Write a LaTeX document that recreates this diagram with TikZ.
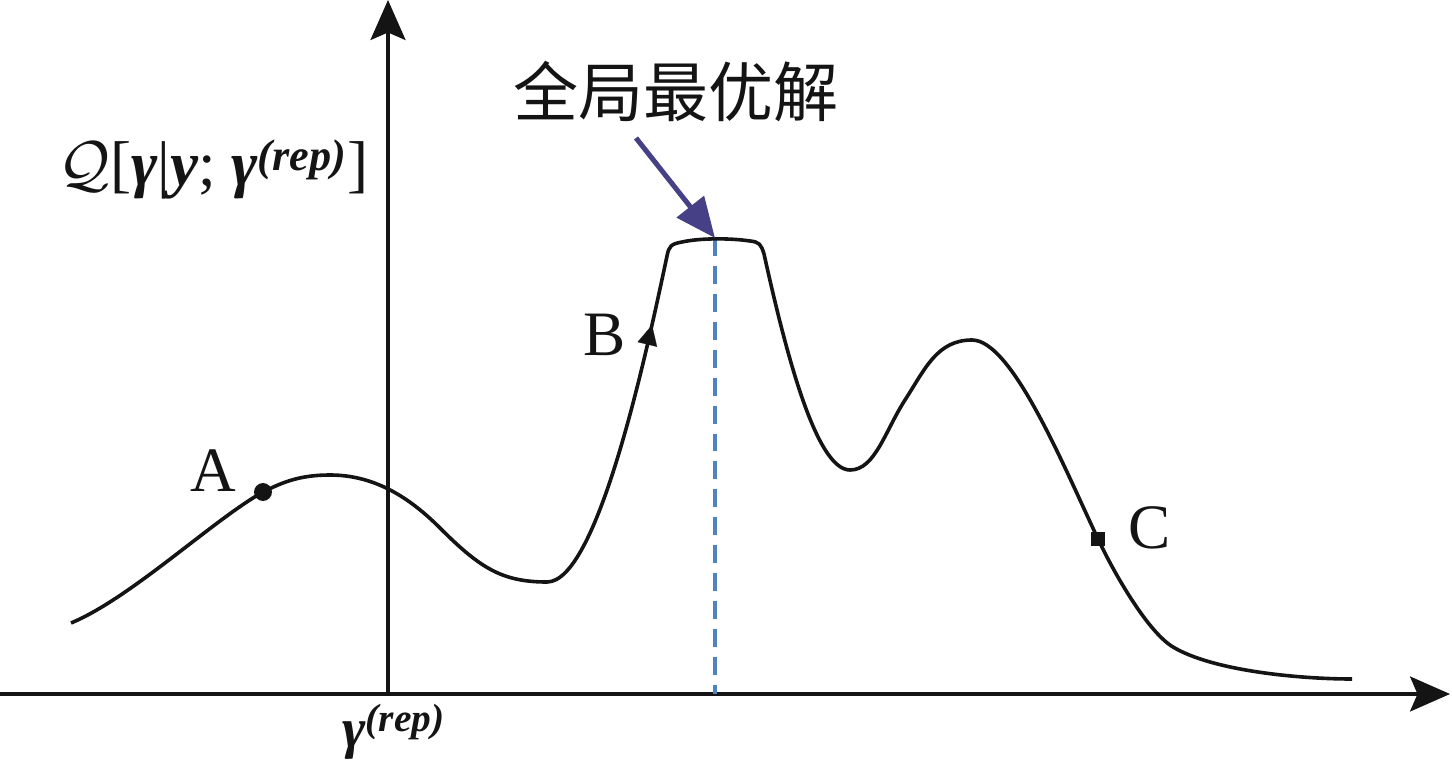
\documentclass[tikz,border=0pt]{standalone}
\usepackage{fontspec}
\setmainfont{Liberation Serif}
\newfontfamily\cjk{Noto Sans CJK SC}
\usetikzlibrary{arrows.meta,calc}
\definecolor{pointer}{RGB}{70,64,135}
\definecolor{dashblue}{RGB}{80,130,190}
\definecolor{ink}{RGB}{20,20,20}
\tikzset{
  axis/.style={draw=ink, line width=1.8pt, -{Stealth[length=0.8cm,width=0.7cm,inset=0.15cm]}},
  curve/.style={draw=ink, line width=2.05pt, line join=round},
  lbl/.style={font=\fontsize{36}{40}\selectfont, text=ink, inner sep=0pt},
  optline/.style={draw=dashblue, line width=1.9pt, dash pattern=on 10.2pt off 5.7pt},
  pointerarrow/.style={draw=pointer, line width=2.85pt, -{Triangle[length=0.8cm,width=0.68cm]}, color=pointer},
}
\begin{document}
\begin{tikzpicture}[x=0.02cm,y=-0.02cm]
\path[use as bounding box] (0,0) rectangle (1452,783);
% axes
\coordinate (origin) at (388,694);
\coordinate (xend) at (1450,694);
\coordinate (xstart) at (0,694);
\coordinate (yend) at (388,0);
\draw[axis] (xstart) -- (xend);
\draw[axis] (origin) -- (yend);
% dashed optimum line
\coordinate (top) at (715,238);
\coordinate (topfoot) at (715,694);
\draw[optline] (top) -- (topfoot);
% curve key points
\coordinate (p0) at (71,623);
\coordinate (Apt) at (263,492);
\coordinate (pk1) at (330,475);
\coordinate (in1) at (440,528);
\coordinate (mn1) at (547,582);
\coordinate (lc) at (667,256);
\coordinate (rc) at (764,254);
\coordinate (mn2) at (850,470);
\coordinate (in2) at (905,400);
\coordinate (pk2) at (972,340);
\coordinate (Cpt) at (1098,539);
\coordinate (tl) at (1173,647);
\coordinate (pend) at (1352,679);
\draw[curve] (p0)
  .. controls (131,598) and (213,520) .. (Apt)
  .. controls (283,482) and (300,475) .. (pk1)
  .. controls (375,475) and (410,498) .. (in1)
  .. controls (480,568) and (502,582) .. (mn1)
  .. controls (597,582) and (645,360) .. (lc)
  .. controls (669,246) and (671,244) .. (682,242)
  .. controls (700,238) and (730,238) .. (750,241)
  .. controls (759,242) and (761,244) .. (rc)
  .. controls (784,344) and (815,470) .. (mn2)
  .. controls (875,470) and (885,431) .. (in2)
  .. controls (925,369) and (937,340) .. (pk2)
  .. controls (1012,340) and (1064,467) .. (Cpt)
  .. controls (1115,575) and (1148,632) .. (tl)
  .. controls (1213,671) and (1300,679) .. (pend);
% markers
\fill[ink] (Apt) circle (5.1pt);
\coordinate (Bbase) at (645,354);
\coordinate (Bpt) at (652,325);
\draw[ink, line width=0.1pt, -{Triangle[length=0.4cm,width=0.4cm]}] (Bbase) -- (Bpt);
\fill[ink] ($(Cpt)+(-7,-7)$) rectangle ($(Cpt)+(7,7)$);
% labels
\node[lbl] (A) at (213,471) {A};
\node[lbl] (B) at (605,335) {B};
\node[lbl] (C) at (1150,528) {C};
\node[lbl, anchor=base west] (Qlab) at (58,186) {\scalebox{1.45}{$\mathcal{Q}$}[{\bfseries\itshape γ}|{\bfseries\itshape y}; {\bfseries\itshape γ}\textsuperscript{\bfseries\itshape (rep)}]};
\node[lbl, font=\fontsize{32}{36}\selectfont, anchor=base west] (rep) at (342,747) {{\bfseries\itshape γ}\textsuperscript{\bfseries\itshape (rep)}};
\node[lbl, font=\fontsize{37}{40}\cjk] (glob) at (676,92) {全局最优解};
% pointer
\coordinate (pstart) at (636,138);
\draw[pointerarrow] (pstart) -- (top);
\end{tikzpicture}
\end{document}
